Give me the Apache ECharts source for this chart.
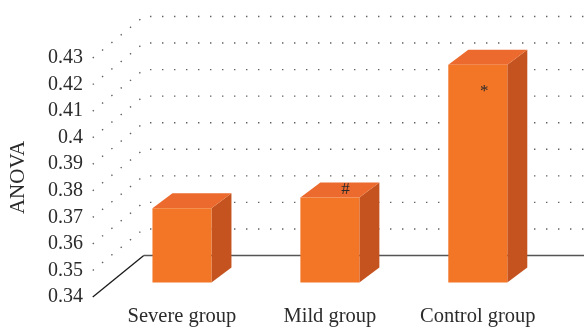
<!DOCTYPE html>
<html>
<head>
<meta charset="utf-8">
<script src="https://cdn.jsdelivr.net/npm/echarts@6/dist/echarts.min.js"></script>
<style>html,body{margin:0;padding:0;background:#fff}#c{width:584px;height:328px}</style>
</head>
<body>
<div id="c"></div>
<script>
// ---- data ----
var categories = ['Severe group', 'Mild group', 'Control group'];
var anovaValues = [0.368, 0.372, 0.422];
var annotations = ['', '#', '*'];
var yTicks = [0.34, 0.35, 0.36, 0.37, 0.38, 0.39, 0.40, 0.41, 0.42, 0.43];
var yTickLabels = ['0.34', '0.35', '0.36', '0.37', '0.38', '0.39', '0.4', '0.41', '0.42', '0.43'];

// ---- style constants ----
var FONT = 'Liberation Serif';
var TEXT = '#2b2b2b';
var BAR_W = 59;            // front face width
var BAR_SHIFT = [0, -14.5]; // bar front plane vs axis front plane
var BAR_DEPTH = [20, -15];  // bar depth (oblique)
var WALL_DEPTH = [51, -41.5];
var FLOOR_LEFT_DX = -15.25; // front-left floor corner relative to grid left
var annoOffset = [[0, 0], [15.5, -8], [6.5, 27]];
var C_FRONT = '#F37627', C_TOP = '#EC6A2D', C_SIDE = '#C4531F';

var chart = echarts.init(document.getElementById('c'), null, {renderer: 'canvas'});
var yMin = yTicks[0], yMax = yTicks[yTicks.length - 1];

chart.setOption({
  animation: false,
  backgroundColor: '#fff',
  grid: {left: 106.25, right: 32.25, top: 58, bottom: 31, containLabel: false},
  xAxis: {
    type: 'category',
    data: categories,
    axisLine: {show: false},
    axisTick: {show: false},
    axisLabel: {fontFamily: FONT, fontSize: 20.5, color: TEXT, margin: 9, interval: 0, hideOverlap: false}
  },
  yAxis: {
    type: 'value',
    min: yMin, max: yMax, interval: 0.01,
    name: 'ANOVA',
    nameLocation: 'middle',
    nameRotate: 90,
    nameGap: 79,
    nameTextStyle: {fontFamily: FONT, fontSize: 21, color: TEXT},
    axisLine: {show: false},
    axisTick: {show: false},
    splitLine: {show: false},
    axisLabel: {
      fontFamily: FONT, fontSize: 20, color: TEXT, margin: 25,
      formatter: function (v) {
        for (var i = 0; i < yTicks.length; i++) {
          if (Math.abs(yTicks[i] - v) < 1e-9) return yTickLabels[i];
        }
        return '';
      }
    }
  },
  series: [
    {
      // walls: left side wall diagonals + back wall gridlines
      type: 'custom',
      z: 1,
      silent: true,
      data: yTicks.map(function (t) { return [0, t]; }),
      renderItem: function (params, api) {
        var cs = params.coordSys;
        var v = api.value(1);
        var y = api.coord([0, v])[1];
        var x0 = cs.x + FLOOR_LEFT_DX;
        var x1 = x0 + WALL_DEPTH[0];
        var y1 = y + WALL_DEPTH[1];
        var isBase = Math.abs(v - yMin) < 1e-9;
        if (isBase) {
          return {
            type: 'group',
            children: [
              {type: 'line', shape: {x1: x0, y1: y, x2: x1, y2: y1},
               style: {stroke: '#1a1a1a', lineWidth: 1.3}},
              {type: 'line', shape: {x1: x1, y1: y1, x2: api.getWidth(), y2: y1},
               style: {stroke: '#555', lineWidth: 1.3}}
            ]
          };
        }
        return {
          type: 'polyline',
          shape: {points: [[x0, y], [x1, y1], [api.getWidth(), y1]]},
          style: {stroke: '#606060', lineWidth: 1.4, lineDash: [1.4, 10.6], fill: null}
        };
      }
    },
    {
      type: 'custom',
      z: 5,
      data: anovaValues.map(function (v, i) { return [i, v]; }),
      renderItem: function (params, api) {
        var i = api.value(0), v = api.value(1);
        var base = api.coord([i, yMin]);
        var top = api.coord([i, v]);
        var fx = base[0] - BAR_W / 2 + BAR_SHIFT[0];
        var fy0 = base[1] + BAR_SHIFT[1];
        var fy1 = top[1] + BAR_SHIFT[1];
        var dx = BAR_DEPTH[0], dy = BAR_DEPTH[1];
        var children = [
          {type: 'polygon', shape: {points: [[fx + BAR_W, fy1], [fx + BAR_W + dx, fy1 + dy], [fx + BAR_W + dx, fy0 + dy], [fx + BAR_W, fy0]]},
           style: {fill: C_SIDE}},
          {type: 'polygon', shape: {points: [[fx, fy1], [fx + BAR_W, fy1], [fx + BAR_W + dx, fy1 + dy], [fx + dx, fy1 + dy]]},
           style: {fill: C_TOP}},
          {type: 'rect', shape: {x: fx, y: fy1, width: BAR_W, height: fy0 - fy1},
           style: {fill: C_FRONT}}
        ];
        var a = annotations[i];
        if (a) {
          children.push({
            type: 'text',
            style: {
              text: a, x: base[0] + annoOffset[i][0], y: fy1 + annoOffset[i][1],
              align: 'center', verticalAlign: 'middle',
              font: '17px "' + FONT + '"', fill: TEXT
            }
          });
        }
        return {type: 'group', children: children};
      }
    }
  ]
});
</script>
</body>
</html>
